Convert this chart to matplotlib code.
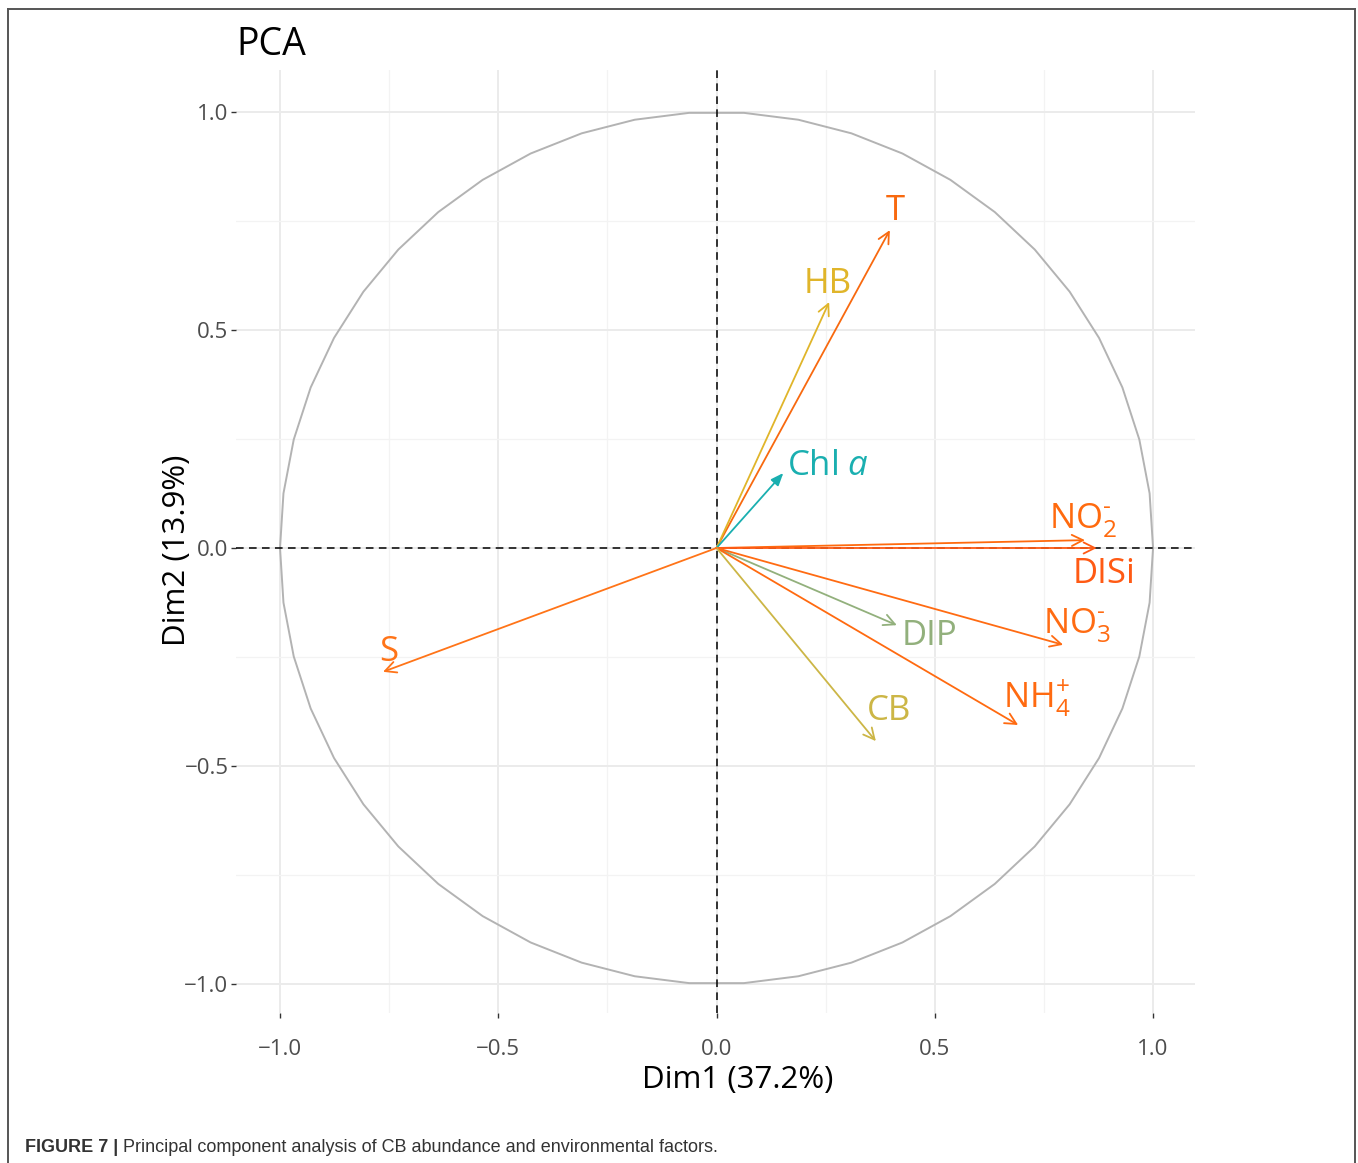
import numpy as np
import matplotlib
matplotlib.use("Agg")
import matplotlib.pyplot as plt
from matplotlib.lines import Line2D

### DATA
variables = ["T", "HB", "Chl a", "NO2", "DISi", "DIP", "NO3", "NH4", "CB", "S"]
dim1 = [0.397, 0.258, 0.153, 0.844, 0.871, 0.413, 0.794, 0.691, 0.365, -0.764]
dim2 = [0.729, 0.564, 0.172, 0.018, 0.000, -0.177, -0.222, -0.406, -0.443, -0.284]
var_pct = [37.2, 13.9]
ticks = [-1.0, -0.5, 0.0, 0.5, 1.0]

### STYLE
labels = {
    "T": "T", "HB": "HB", "Chl a": r"Chl $\mathit{a}$",
    "NO2": r"NO$_2^{\text{-}}$", "DISi": "DISi", "DIP": "DIP",
    "NO3": r"NO$_3^{\text{-}}$", "NH4": r"NH$_4^{+}$", "CB": "CB", "S": "S",
}
colours = {
    "T": "#F8690F", "HB": "#E0B52A", "Chl a": "#1AAFB0", "NO2": "#FF6A0E",
    "DISi": "#FF5A14", "DIP": "#92B07C", "NO3": "#FF6B12", "NH4": "#FF6A10",
    "CB": "#CCB646", "S": "#FF7418",
}
# label offsets from the arrow tip, in axis units
offsets = {
    "T": (0.012, 0.053), "HB": (-0.003, 0.051), "Chl a": (0.102, 0.025),
    "NO2": (-0.004, 0.058), "DISi": (0.017, -0.050), "DIP": (0.076, -0.016),
    "NO3": (0.032, 0.057), "NH4": (0.043, 0.073), "CB": (0.030, 0.078),
    "S": (0.014, 0.055),
}

plt.rcParams["font.family"] = ["Open Sans", "DejaVu Sans"]
plt.rcParams["mathtext.fontset"] = "custom"
plt.rcParams["mathtext.rm"] = "Open Sans"
plt.rcParams["mathtext.it"] = "Open Sans:italic"

W, H = 1358, 1163
fig = plt.figure(figsize=(W / 100, H / 100), dpi=100)
ax = fig.add_axes([0.1738, 0.129, 0.7062, 0.8108])
ax.set_xlim(-1.1008, 1.0962)
ax.set_ylim(-1.0665, 1.0963)

# grid (major + minor), ggplot minimal look
for side in ("top", "right", "bottom", "left"):
    ax.spines[side].set_visible(False)
ax.set_xticks(ticks)
ax.set_yticks(ticks)
ax.set_xticks([-0.75, -0.25, 0.25, 0.75], minor=True)
ax.set_yticks([-0.75, -0.25, 0.25, 0.75], minor=True)
ax.grid(True, which="major", color="#EBEBEB", linewidth=1.4)
ax.grid(True, which="minor", color="#F3F3F3", linewidth=0.9)
ax.tick_params(which="minor", length=0)
ax.tick_params(which="major", length=3.5, width=1.0, color="#333333",
               labelcolor="#4D4D4D", labelsize=16, pad=2)
ax.tick_params(axis="x", which="major", pad=15)
ax.set_xticklabels([f"{t:.1f}".replace("-", "\u2212") for t in ticks])
ax.set_yticklabels([f"{t:.1f}".replace("-", "\u2212") for t in ticks])
ax.set_axisbelow(True)

# correlation circle
theta = np.linspace(0, 2 * np.pi, 51)
ax.plot(np.cos(theta), np.sin(theta), color="#B3B3B3", linewidth=1.4, zorder=2)

ax.axhline(0, color="black", linestyle=(0, (5, 3.5)), linewidth=1.1, zorder=3)
ax.axvline(0, color="black", linestyle=(0, (5, 3.5)), linewidth=1.1, zorder=3)

# variable arrows and labels
for name, x, y in zip(variables, dim1, dim2):
    col = colours[name]
    style = "-|>,head_length=0.75,head_width=0.3" if name == "Chl a" else "->,head_length=0.8,head_width=0.4"
    ax.annotate("", xy=(x, y), xytext=(0, 0),
                arrowprops=dict(arrowstyle=style, color=col, lw=1.3,
                                shrinkA=0, shrinkB=0), zorder=4)
    dx, dy = offsets[name]
    ax.text(x + dx, y + dy, labels[name], color=col, fontsize=25,
            ha="center", va="center_baseline", zorder=5)

ax.set_xlabel(f"Dim1 ({var_pct[0]}%)", fontsize=22.5, color="black")
ax.set_ylabel(f"Dim2 ({var_pct[1]}%)", fontsize=22.5, color="black")
ax.xaxis.set_label_coords(0.5235, -0.055)
ax.yaxis.set_label_coords(-0.046, 0.491)
ax.set_title("PCA", loc="left", fontsize=27, color="black", pad=11)

# page frame and caption
frame = dict(color="#555555", linewidth=1.4, transform=fig.transFigure)
fig.add_artist(Line2D([8 / W, 8 / W], [0, 1 - 8.5 / H], **frame))
fig.add_artist(Line2D([8 / W, 1355 / W], [1 - 8.5 / H, 1 - 8.5 / H], **frame))
fig.add_artist(Line2D([1355 / W, 1355 / W], [0, 1 - 8.5 / H], **frame))

cap_font = ["Liberation Sans Narrow", "Liberation Sans"]
head = fig.text(25 / W, 1 - 1152 / H, "FIGURE 7 |", fontsize=13, fontweight="bold",
                family=cap_font, color="#333333", va="baseline")
fig.canvas.draw()
head_end = head.get_window_extent().x1 / W
fig.text(head_end + 5 / W, 1 - 1152 / H,
         "Principal component analysis of CB abundance and environmental factors.",
         fontsize=13, family=cap_font, color="#333333", va="baseline")

fig.savefig("out.png", dpi=100)
